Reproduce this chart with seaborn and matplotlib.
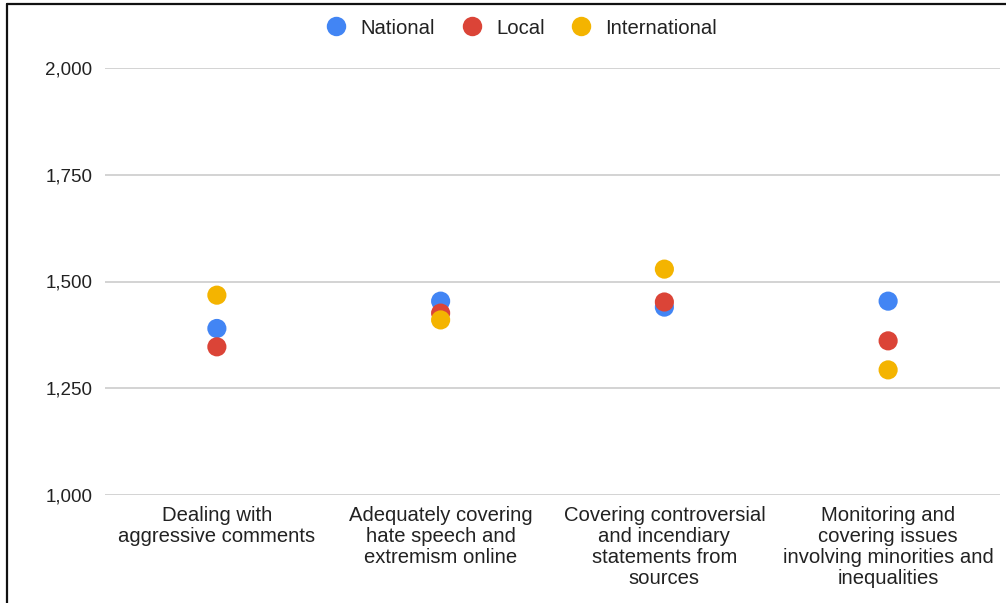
import matplotlib
matplotlib.use("Agg")
import matplotlib.pyplot as plt
from matplotlib.lines import Line2D
import seaborn as sns
import pandas as pd

categories = [
    "Dealing with\naggressive comments",
    "Adequately covering\nhate speech and\nextremism online",
    "Covering controversial\nand incendiary\nstatements from\nsources",
    "Monitoring and\ncovering issues\ninvolving minorities and\ninequalities",
]
national = [1390, 1454, 1440, 1454]
local = [1347, 1426, 1452, 1361]
international = [1468, 1410, 1529, 1293]
series_names = ["National", "Local", "International"]
palette = ["#4285F4", "#DB4437", "#F4B400"]
y_ticks = [1000, 1250, 1500, 1750, 2000]

rows = []
for name, vals in zip(series_names, [national, local, international]):
    for cat, v in zip(categories, vals):
        rows.append({"category": cat, "series": name, "value": v})
df = pd.DataFrame(rows)

sns.set_theme(style="white")
plt.rcParams["font.family"] = ["Liberation Sans", "DejaVu Sans"]

fig = plt.figure(figsize=(10.06, 6.03), dpi=100)
ax = fig.add_axes([105 / 1006, 1 - 495 / 603, 895 / 1006, 427 / 603])

sns.scatterplot(
    data=df, x="category", y="value", hue="series",
    hue_order=series_names, palette=palette,
    s=190, linewidth=0, ax=ax, legend=False, zorder=3,
)

ax.set_ylim(1000, 2000)
ax.set_xlim(-0.5, len(categories) - 0.5)
ax.set_yticks(y_ticks)
ax.set_yticklabels([f"{t:,}" for t in y_ticks])
ax.yaxis.grid(True, color="#cccccc", linewidth=1.2, zorder=0)
ax.set_axisbelow(True)
for sp in ax.spines.values():
    sp.set_visible(False)
ax.tick_params(axis="y", length=0, pad=9, labelsize=13.5, labelcolor="#222222")
ax.tick_params(axis="x", length=0, pad=8, labelsize=14.6, labelcolor="#222222")
for lbl in ax.get_xticklabels():
    lbl.set_linespacing(1.13)
    lbl.set_verticalalignment("top")
ax.set_xlabel("")
ax.set_ylabel("")

handles = [
    Line2D([0], [0], marker="o", linestyle="", markersize=14,
           markerfacecolor=c, markeredgewidth=0)
    for c in palette
]
fig.legend(handles, series_names, loc="center", bbox_to_anchor=(0.5135, 1 - 28 / 603),
           ncol=3, frameon=False, fontsize=14.6, handletextpad=0.2,
           columnspacing=0.8, labelcolor="#222222")

# frame edges along the top and left of the canvas
fig.add_artist(Line2D([7 / 1006, 1], [1 - 4 / 603, 1 - 4 / 603], color="#111111",
                      linewidth=1.6, transform=fig.transFigure))
fig.add_artist(Line2D([7 / 1006, 7 / 1006], [0, 1 - 4 / 603], color="#111111",
                      linewidth=1.6, transform=fig.transFigure))

fig.savefig("out.png", dpi=100)
